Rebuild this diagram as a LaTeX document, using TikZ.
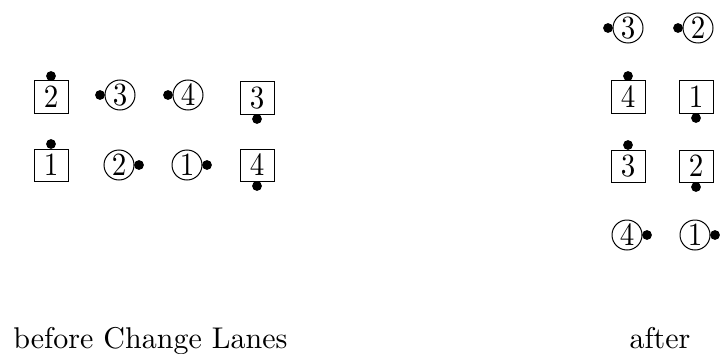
\documentclass[tikz,border=0pt]{standalone}
\usepackage{graphicx}
\newcommand{\dig}[1]{\scalebox{1.45}[1.62]{#1}}
\newcommand{\bigtxt}[1]{\scalebox{1.5}{#1}}
\begin{document}
\begin{tikzpicture}[x=0.5pt,y=-0.5pt,
  car/.style={draw,line width=0.5pt,inner sep=0pt,minimum width=17pt,minimum height=16pt,font=\fontsize{10}{12}\selectfont},
  ped/.style={draw,circle,line width=0.5pt,inner sep=0pt,minimum size=15pt,font=\fontsize{10}{12}\selectfont},
  dot/.style={circle,fill=black,inner sep=0pt,minimum size=4.9pt},
  lbl/.style={inner sep=0pt,font=\fontsize{10}{12}\selectfont}]
\useasboundingbox (0,0) rectangle (721,353);
% before
\node[car] (lb2) at (51,97) {\dig{2}};
\node[ped] (lc3) at (120,95) {\dig{3}};
\node[ped] (lc4) at (188,95) {\dig{4}};
\node[car] (lb3) at (257,98) {\dig{3}};
\node[car] (lb1) at (51,165) {\dig{1}};
\node[ped] (lc2) at (119,165) {\dig{2}};
\node[ped] (lc1) at (187,165) {\dig{1}};
\node[car] (lb4) at (257,165) {\dig{4}};
\node[dot,anchor=south] (lb2d) at ([yshift=-0.4pt]lb2.north) {};
\node[dot,anchor=east] (lc3d) at ([xshift=0.4pt]lc3.west) {};
\node[dot,anchor=east] (lc4d) at ([xshift=0.4pt]lc4.west) {};
\node[dot,anchor=north] (lb3d) at ([yshift=0.4pt]lb3.south) {};
\node[dot,anchor=south] (lb1d) at ([yshift=-0.4pt]lb1.north) {};
\node[dot,anchor=west] (lc2d) at ([xshift=-0.4pt]lc2.east) {};
\node[dot,anchor=west] (lc1d) at ([xshift=-0.4pt]lc1.east) {};
\node[dot,anchor=north] (lb4d) at ([yshift=0.4pt]lb4.south) {};
% after
\node[ped] (rc3) at (628,28) {\dig{3}};
\node[ped] (rc2) at (698,28) {\dig{2}};
\node[car] (rb4) at (628,97) {\dig{4}};
\node[car] (rb1) at (696,97) {\dig{1}};
\node[car] (rb3) at (628,166) {\dig{3}};
\node[car] (rb2) at (696,166) {\dig{2}};
\node[ped] (rc4) at (627,235) {\dig{4}};
\node[ped] (rc1) at (695,235) {\dig{1}};
\node[dot,anchor=east] (rc3d) at ([xshift=0.4pt]rc3.west) {};
\node[dot,anchor=east] (rc2d) at ([xshift=0.4pt]rc2.west) {};
\node[dot,anchor=south] (rb4d) at ([yshift=-0.4pt]rb4.north) {};
\node[dot,anchor=north] (rb1d) at ([yshift=0.4pt]rb1.south) {};
\node[dot,anchor=south] (rb3d) at ([yshift=-0.4pt]rb3.north) {};
\node[dot,anchor=north] (rb2d) at ([yshift=0.4pt]rb2.south) {};
\node[dot,anchor=west] (rc4d) at ([xshift=-0.4pt]rc4.east) {};
\node[dot,anchor=west] (rc1d) at ([xshift=-0.4pt]rc1.east) {};
% labels
\node[lbl,anchor=base west] (before) at (13,348) {\bigtxt{before Change Lanes}};
\node[lbl,anchor=base] (after) at (660,348) {\bigtxt{after}};
\end{tikzpicture}
\end{document}
